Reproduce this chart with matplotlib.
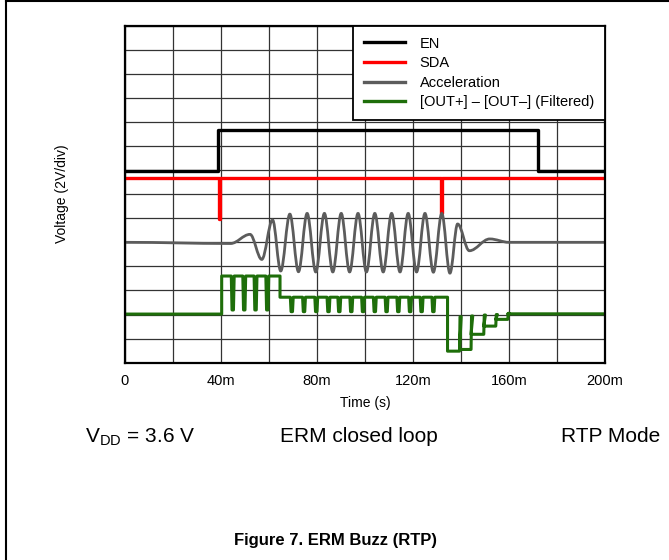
import matplotlib
matplotlib.use("Agg")
import matplotlib.pyplot as plt
from matplotlib.path import Path
from matplotlib.patches import PathPatch
from matplotlib.lines import Line2D

plt.rcParams['font.family'] = ['Liberation Sans', 'DejaVu Sans']

# time in ms, voltage in divisions (2 V/div)
en_t = [0, 38.6, 38.6, 172.0, 172.0, 200]
en_v = [7.96, 7.96, 9.66, 9.66, 7.96, 7.96]

sda_t = [0, 39.0, 39.0, 39.4, 39.4, 131.8, 131.8, 132.2, 132.2, 200]
sda_v = [7.68, 7.68, 5.95, 5.95, 7.68, 7.68, 6.2, 6.2, 7.68, 7.68]

# acceleration: extremes (peaks / troughs) of the oscillation
acc_t = [0, 44.0, 52.1, 57.0, 61.5, 64.9, 68.7, 72.3, 75.9, 79.5, 83.1, 86.6,
         90.1, 93.6, 97.1, 100.6, 104.1, 107.6, 111.1, 114.6, 118.0, 121.5,
         125.0, 128.5, 132.0, 135.4, 138.6, 143.5, 152.0, 160.0, 200]
acc_v = [5.0, 4.95, 5.33, 4.29, 5.93, 3.81, 6.17, 3.78, 6.2, 3.77, 6.2, 3.77,
         6.2, 3.77, 6.2, 3.77, 6.2, 3.77, 6.2, 3.77, 6.2, 3.77,
         6.2, 3.76, 6.2, 3.72, 5.76, 4.65, 5.14, 5.0, 5.0]

# filtered output: level steps, then narrow dips / spikes
out_seg_t = [0, 40.3, 64.6, 134.4, 139.4, 144.2, 149.5, 154.5, 159.5, 200]
out_seg_v = [2.02, 3.6, 2.72, 0.48, 0.55, 1.18, 1.52, 1.8, 2.03]
out_dip_t = [44.9, 49.7, 54.4, 59.3,
             69.5, 74.6, 79.7, 84.8, 89.3, 94.3, 99.2, 104.1, 109.0, 113.9,
             118.8, 123.6, 128.5]
out_dip_v = [2.19, 2.19, 2.19, 2.19,
             2.12, 2.12, 2.12, 2.12, 2.12, 2.12, 2.12, 2.12, 2.12, 2.12,
             2.12, 2.12, 2.12]
out_spike_t = [139.4, 144.2, 149.5, 154.5, 159.5]
out_spike_v = [1.91, 1.94, 1.98, 2.0, 2.05]

x_ticks = [0, 40, 80, 120, 160, 200]
x_labels = ['0', '40m', '80m', '120m', '160m', '200m']

C_EN = 'black'
C_SDA = '#ff0000'
C_ACC = '#5c5c5c'
C_OUT = '#1e6e0a'


def build_out():
    t, v = [], []
    for i in range(len(out_seg_v)):
        a, b, lvl = out_seg_t[i], out_seg_t[i + 1], out_seg_v[i]
        t.append(a)
        v.append(lvl)
        for dt, dv in zip(out_dip_t, out_dip_v):
            if a < dt < b:
                t += [dt - 0.6, dt - 0.3, dt + 0.3, dt + 0.6]
                v += [lvl, dv, dv, lvl]
        t.append(b)
        v.append(lvl)
        if b in out_spike_t:
            s = out_spike_v[out_spike_t.index(b)]
            t += [b + 0.2, b + 0.7]
            v += [s, s]
    return t, v


def acc_path():
    verts = [(acc_t[0], acc_v[0])]
    codes = [Path.MOVETO]
    for i in range(1, len(acc_t)):
        t0, v0 = acc_t[i - 1], acc_v[i - 1]
        t1, v1 = acc_t[i], acc_v[i]
        k = 0.36 * (t1 - t0)
        verts += [(t0 + k, v0), (t1 - k, v1), (t1, v1)]
        codes += [Path.CURVE4] * 3
    return Path(verts, codes)


fig = plt.figure(figsize=(6.69, 5.6), dpi=100)
ax = fig.add_axes([0.1868, 0.3523, 0.7175, 0.602])

ax.set_xlim(0, 200)
ax.set_ylim(0, 14)
ax.set_yticks(range(0, 15))
ax.grid(True, color='#333333', lw=0.9)
ax.tick_params(length=0, labelleft=False, labelsize=10.5, pad=8)
ax.set_xticks(range(0, 201, 20))
ax.set_xticklabels([x_labels[x_ticks.index(x)] if x in x_ticks else ''
                    for x in range(0, 201, 20)])
for s in ax.spines.values():
    s.set_linewidth(1.6)
    s.set_zorder(5)

ax.plot(en_t, en_v, color=C_EN, lw=2.4, zorder=3)
ax.plot(sda_t, sda_v, color=C_SDA, lw=2.4, zorder=3)
ax.add_patch(PathPatch(acc_path(), fill=False, edgecolor=C_ACC, lw=2.0, zorder=3))
ot, ov = build_out()
ax.plot(ot, ov, color=C_OUT, lw=2.2, zorder=3, solid_joinstyle='round')

handles = [Line2D([], [], color=C_EN, lw=2.4),
           Line2D([], [], color=C_SDA, lw=2.4),
           Line2D([], [], color=C_ACC, lw=2.4),
           Line2D([], [], color=C_OUT, lw=2.4)]
labels = ['EN', 'SDA', 'Acceleration', '[OUT+] \u2013 [OUT\u2013] (Filtered)']
leg = ax.legend(handles, labels, loc='upper right', fontsize=10.5, frameon=True,
                fancybox=False, framealpha=1, edgecolor='black',
                borderaxespad=0, handlelength=2.8, labelspacing=0.38,
                borderpad=0.75, handletextpad=1.0)
leg.get_frame().set_linewidth(1.3)
leg.set_zorder(6)

ax.set_xlabel('Time (s)', fontsize=10, labelpad=6)
ax.set_ylabel('Voltage (2V/div)', fontsize=10, labelpad=40)

fig.text(85 / 669, 1 - 437 / 560, r'V$_{\mathregular{DD}}$ = 3.6 V', fontsize=15,
         ha='left', va='center')
fig.text(280 / 669, 1 - 437 / 560, 'ERM closed loop', fontsize=15,
         ha='left', va='center')
fig.text(660 / 669, 1 - 437 / 560, 'RTP Mode', fontsize=15,
         ha='right', va='center')
fig.text(335 / 669, 1 - 541 / 560, 'Figure 7. ERM Buzz (RTP)', fontsize=12,
         fontweight='bold', ha='center', va='center')

# page frame lines
fig.add_artist(Line2D([6.5 / 669, 1], [1 - 1 / 560, 1 - 1 / 560], color='black', lw=1.5))
fig.add_artist(Line2D([6.5 / 669, 6.5 / 669], [0, 1 - 1 / 560], color='black', lw=1.5))

fig.savefig('out.png', dpi=100)
